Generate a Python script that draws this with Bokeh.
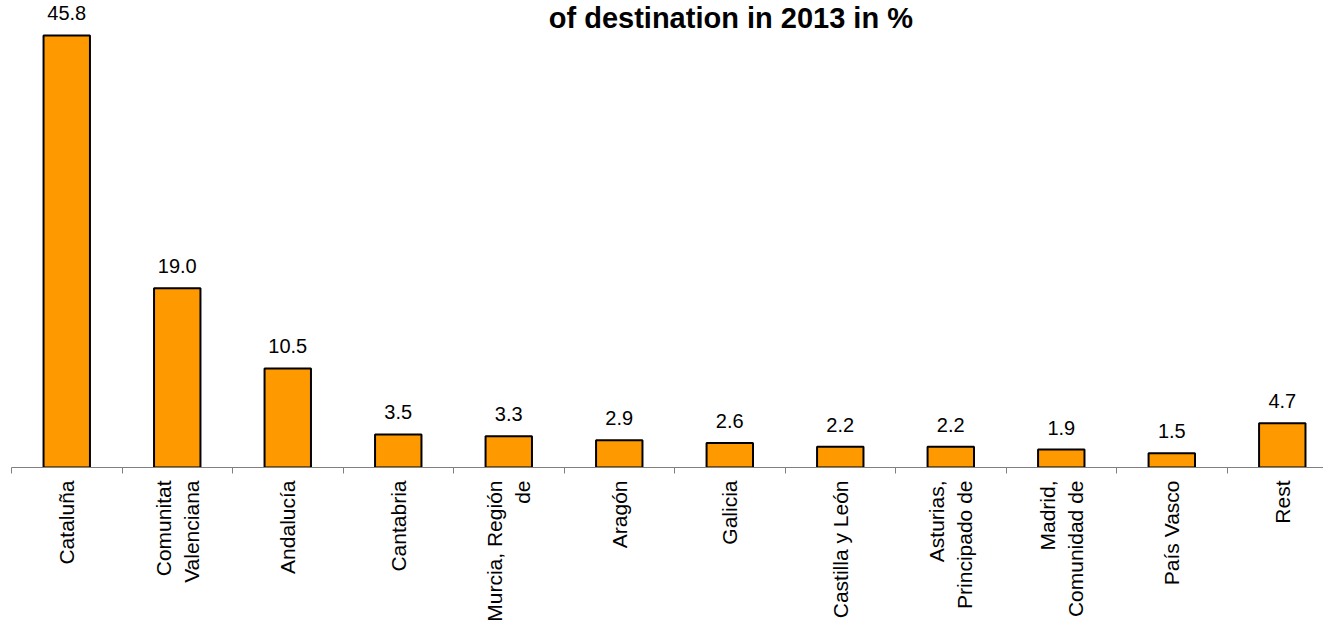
import math
from bokeh.plotting import figure
from bokeh.models import Range1d, FixedTicker, ColumnDataSource, Label
from bokeh.core.properties import value
from bokeh.embed import file_html
from bokeh.resources import INLINE

# ---- data ----
regions = ["Cataluña", "Comunitat\nValenciana", "Andalucía", "Cantabria",
           "Murcia, Región\nde", "Aragón", "Galicia", "Castilla y León",
           "Asturias,\nPrincipado de", "Madrid,\nComunidad de", "País Vasco", "Rest"]
shares = [45.8, 19.0, 10.5, 3.5, 3.3, 2.9, 2.6, 2.2, 2.2, 1.9, 1.5, 4.7]
title_text = "of destination in 2013 in %"

FONT = "Liberation Sans"

xs = list(range(len(regions)))
src = ColumnDataSource(dict(x=xs, top=shares, label=[f"{v:.1f}" for v in shares]))

p = figure(width=1323, height=624, output_backend="svg", toolbar_location=None,
           x_range=Range1d(-0.5, 11.373), y_range=Range1d(0, 49.51),
           y_axis_location=None, min_border_left=11, min_border_right=0,
           min_border_top=0, min_border_bottom=0)
p.outline_line_color = None
p.grid.visible = False
p.background_fill_color = "white"

p.vbar(x="x", top="top", bottom=0, width=0.42, source=src,
       fill_color="#FF9900", line_color="black", line_width=2)

p.text(x="x", y="top", text="label", source=src, text_align="center",
       text_baseline="alphabetic", y_offset=-22,
       text_font=value(FONT), text_font_size="20px", text_color="black")

ax = p.xaxis[0]
ax.ticker = FixedTicker(ticks=xs, minor_ticks=[i - 0.5 for i in range(len(regions) + 1)])
ax.major_label_overrides = {i: r for i, r in enumerate(regions)}
ax.major_label_orientation = math.pi / 2
ax.major_label_text_font = FONT
ax.major_label_text_font_size = "21px"
ax.major_label_text_color = "black"
ax.major_label_standoff = 7
ax.major_tick_out = 0
ax.major_tick_in = 0
ax.minor_tick_out = 6
ax.minor_tick_in = 0
ax.minor_tick_line_color = "#808080"
ax.axis_line_color = "#808080"
ax.axis_line_width = 1

p.add_layout(Label(x=6.01, y=47.7, text=title_text, text_align="center",
                   text_baseline="alphabetic", text_font=FONT,
                   text_font_size="29px", text_font_style="bold",
                   text_color="black"))

open("out.html", "w").write(file_html(p, INLINE))
